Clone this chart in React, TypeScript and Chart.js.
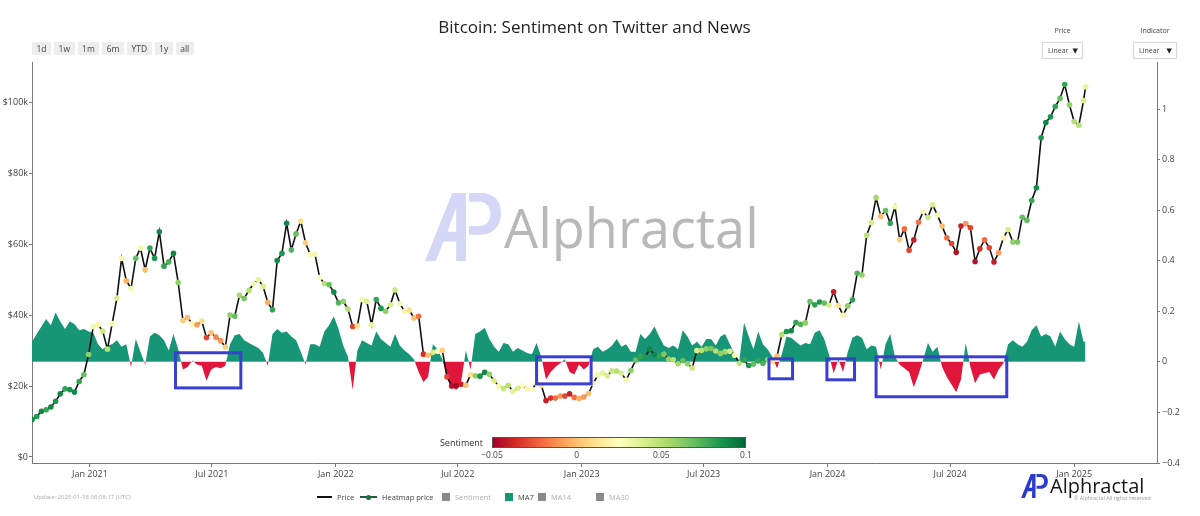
import React, { useEffect, useRef } from "react";
import { Chart, registerables } from "chart.js";

Chart.register(...registerables);

// ---------------- data ----------------
const TITLE = "Bitcoin: Sentiment on Twitter and News";
const FIRST_WEEK = "2020-10-07"; // weekly samples start here (every 7 days)
const LAST_DAY = "2025-01-18"; // final sample
const X_RANGE = ["2020-10-07", "2025-05-04"];
const X_TICK_DATES = [
  "2021-01-01", "2021-07-01", "2022-01-01", "2022-07-01", "2023-01-01",
  "2023-07-01", "2024-01-01", "2024-07-01", "2025-01-01",
];
const MONTHS = ["Jan", "Feb", "Mar", "Apr", "May", "Jun", "Jul", "Aug", "Sep", "Oct", "Nov", "Dec"];

// BTC price, thousands of USD (weekly)
const PRICE_K = [
  // 2020
  10.6, 11.4, 12.9, 13.3, 14.1, 15.7, 17.8, 19.2, 19.0, 18.3, 21.3, 23.2, 28.9,
  // 2021
  36.8, 37.3, 35.5, 30.4, 37.6, 44.8, 56.0, 49.7, 47.5, 56.0, 58.9, 52.8, 58.9,
  56.0, 63.5, 53.8, 55.0, 57.4, 49.2, 38.5, 39.3, 37.6, 37.3, 38.3, 33.7, 35.0,
  33.8, 32.8, 31.0, 40.0, 39.7, 45.6, 44.7, 47.0, 48.8, 50.0, 48.1, 43.6, 41.5,
  55.4, 57.4, 65.9, 58.4, 62.9, 66.5, 60.4, 57.1, 57.2, 50.6, 48.9, 48.6, 46.5,
  // 2022
  43.5, 43.9, 41.7, 36.8, 36.9, 44.4, 43.9, 37.3, 44.4, 41.9, 41.1, 42.9, 47.1,
  43.2, 41.1, 41.4, 39.2, 39.7, 29.0, 28.7, 29.5, 29.8, 30.1, 22.6, 20.0, 20.1,
  20.5, 20.2, 23.2, 22.9, 22.8, 23.9, 23.3, 21.5, 20.0, 19.3, 20.2, 18.5, 19.4,
  20.2, 19.2, 19.1, 20.8, 20.2, 15.9, 16.6, 16.6, 17.2, 17.2, 17.8, 16.8, 16.5,
  // 2023
  16.9, 17.9, 20.7, 23.1, 23.7, 22.9, 24.3, 24.2, 23.6, 21.7, 24.4, 27.3, 28.3,
  28.2, 30.4, 28.8, 28.4, 29.0, 27.6, 27.4, 26.3, 27.2, 26.3, 25.1, 30.0, 30.1,
  30.5, 30.6, 29.9, 29.2, 29.7, 29.8, 28.7, 26.4, 27.3, 25.8, 26.2, 27.1, 26.4,
  27.4, 26.9, 28.4, 34.5, 35.4, 35.6, 37.9, 37.4, 37.8, 43.8, 42.9, 43.7, 43.4,
  // 2024
  42.8, 46.6, 42.7, 40.0, 42.6, 44.3, 51.8, 51.3, 62.5, 66.1, 73.1, 67.9, 69.5,
  65.9, 70.6, 61.3, 64.3, 58.3, 61.2, 66.2, 69.2, 67.6, 71.1, 68.2, 65.1, 61.8,
  60.2, 57.7, 65.1, 65.8, 64.6, 55.1, 58.7, 61.2, 59.0, 55.0, 57.6, 61.8, 64.1,
  60.6, 60.6, 67.6, 66.7, 72.3, 75.9, 90.0, 94.3, 95.9, 98.8, 101.1, 105.0, 99.3,
  // 2025
  94.6, 93.5, 100.5, 104.4,
];

// Sentiment of each price point (colours the heatmap markers)
const SENTIMENT = [
  0.09, 0.085, 0.09, 0.08, 0.09, 0.085, 0.09, 0.08, 0.085, 0.09, 0.08, 0.07, 0.06,
  0.03, 0.02, 0.045, 0.05, 0.03, 0.04, 0.02, -0.005, 0.03, 0.07, 0.03, 0.0, 0.08,
  0.085, 0.09, 0.08, 0.075, 0.09, 0.06, 0.005, 0.0, 0.02, -0.01, 0.01, -0.03, 0.0,
  -0.015, -0.01, 0.005, 0.06, 0.07, 0.055, 0.065, 0.05, 0.03, 0.035, 0.04, -0.005, 0.08,
  0.09, 0.085, 0.09, 0.075, 0.07, 0.01, 0.005, 0.02, 0.03, 0.025, 0.05, 0.07, 0.09,
  0.075, 0.06, 0.05, -0.03, 0.01, 0.03, 0.04, 0.035, 0.08, 0.085, 0.06, 0.04, 0.045,
  0.03, 0.02, 0.01, 0.0, -0.02, -0.035, 0.0, 0.04, 0.025, 0.005, -0.03, -0.045, -0.05,
  -0.04, 0.0, 0.01, 0.06, 0.085, 0.09, 0.06, 0.04, 0.03, 0.045, 0.05, 0.035, 0.04,
  0.025, 0.02, 0.025, 0.03, 0.01, -0.04, -0.035, -0.02, -0.01, -0.03, -0.04, -0.02, -0.005,
  -0.01, 0.0, 0.02, 0.03, 0.035, 0.04, 0.045, 0.05, 0.04, 0.03, 0.06, 0.07, 0.08,
  0.085, 0.09, 0.09, 0.08, 0.065, 0.06, 0.05, 0.055, 0.07, 0.06, 0.045, 0.04, 0.05,
  0.06, 0.065, 0.05, 0.06, 0.055, 0.04, 0.03, 0.05, 0.08, 0.085, 0.07, 0.08, 0.075,
  0.06, 0.01, 0.0, 0.05, 0.085, 0.09, 0.08, 0.075, 0.06, 0.07, 0.08, 0.085, 0.07,
  0.04, -0.04, 0.01, 0.02, 0.06, 0.08, 0.075, 0.06, 0.05, 0.04, 0.055, 0.0, 0.07,
  0.08, 0.03, 0.005, -0.02, -0.03, -0.04, -0.02, 0.02, 0.045, 0.04, 0.03, 0.0, -0.02,
  -0.03, -0.045, -0.04, -0.01, -0.03, -0.045, -0.035, -0.02, -0.03, -0.04, -0.01, 0.02, 0.04,
  0.06, 0.065, 0.07, 0.07, 0.08, 0.09, 0.085, 0.09, 0.085, 0.08, 0.07, 0.08, 0.06,
  0.05, 0.05, 0.04, 0.035,
];

// MA7 of sentiment (right axis)
const MA7 = [
  0.08, 0.11, 0.14, 0.17, 0.145, 0.195, 0.16, 0.13, 0.16, 0.15, 0.125, 0.13, 0.12,
  0.115, 0.07, 0.05, 0.065, 0.07, 0.085, 0.06, 0.07, -0.02, 0.09, 0.04, -0.01, 0.1,
  0.115, 0.105, 0.085, 0.045, 0.11, 0.05, -0.03, -0.02, 0.005, -0.01, -0.015, -0.075, -0.03,
  -0.02, -0.025, -0.015, 0.07, 0.105, 0.11, 0.085, 0.075, 0.065, 0.055, 0.035, -0.015, 0.11,
  0.13, 0.115, 0.12, 0.1, 0.085, 0.04, -0.01, 0.07, 0.07, 0.06, 0.12, 0.145, 0.18,
  0.13, 0.065, 0.02, -0.11, 0.045, 0.085, 0.075, 0.065, 0.12, 0.09, 0.075, 0.06, 0.11,
  0.065, 0.045, 0.03, 0.01, -0.04, -0.08, -0.06, 0.07, 0.05, 0.01, -0.06, -0.1, -0.11,
  -0.08, 0.045, -0.03, 0.11, 0.12, 0.135, 0.09, 0.06, 0.04, 0.075, 0.07, 0.04, 0.055,
  0.045, 0.035, 0.03, 0.075, 0.02, -0.07, -0.04, -0.02, -0.005, 0.01, -0.04, -0.05, -0.01,
  -0.03, -0.015, 0.05, 0.06, 0.04, 0.05, 0.065, 0.09, 0.06, 0.07, 0.04, 0.04, 0.11,
  0.09, 0.11, 0.14, 0.1, 0.065, 0.055, 0.065, 0.05, 0.125, 0.1, 0.065, 0.08, 0.06,
  0.09, 0.09, 0.065, 0.1, 0.11, 0.07, 0.03, 0.005, 0.155, 0.1, 0.05, 0.12, 0.07,
  0.05, 0.02, -0.025, 0.03, 0.1, 0.095, 0.08, 0.065, 0.075, 0.07, 0.115, 0.125, 0.09,
  0.03, -0.045, 0.01, -0.04, 0.04, 0.095, 0.105, 0.095, 0.05, 0.065, 0.06, -0.03, 0.07,
  0.11, 0.02, -0.01, -0.025, -0.04, -0.1, -0.05, 0.01, 0.075, 0.04, 0.06, -0.02, -0.06,
  -0.09, -0.12, -0.07, 0.075, -0.02, -0.085, -0.05, -0.045, -0.04, -0.07, -0.03, -0.005, 0.07,
  0.085, 0.07, 0.06, 0.08, 0.125, 0.145, 0.1, 0.11, 0.1, 0.06, 0.12, 0.09, 0.07,
  0.06, 0.16, 0.08, 0.08,
];

const PRICE_TICKS = [0, 20000, 40000, 60000, 80000, 100000];
const PRICE_RANGE = [-1692, 111360];
const IND_TICKS = [-0.4, -0.2, 0, 0.2, 0.4, 0.6, 0.8, 1];
const IND_RANGE = [-0.4, 1.186];
const SENT_RANGE = [-0.05, 0.1];
const SENT_TICKS = [-0.05, 0, 0.05, 0.1];

// highlighted periods (dates, indicator values)
const BOX_FROM = ["2021-05-08", "2022-10-26", "2023-10-06", "2023-12-31", "2024-03-13"];
const BOX_TO = ["2021-08-13", "2023-01-15", "2023-11-10", "2024-02-10", "2024-09-23"];
const BOX_TOP = [0.036, 0.02, 0.012, 0.012, 0.02];
const BOX_BOTTOM = [-0.103, -0.087, -0.067, -0.071, -0.138];

const RANGE_BUTTONS = ["1d", "1w", "1m", "6m", "YTD", "1y", "all"];
const UPDATE_TEXT = "Update: 2025-01-18 08:08:17 (UTC)";

// ---------------- styles ----------------
const FONT = "'Open Sans', 'DejaVu Sans', sans-serif";
const TEAL = "rgb(22,150,118)";
const CRIMSON = "rgb(225,22,60)";
const BOX_COLOR = "#3b3fcf";
const AXIS_COLOR = "#7a7a7a";
const TEXT = "#444";
const RDYLGN: [number, number[]][] = [
  [0, [165, 0, 38]], [0.1, [215, 48, 39]], [0.2, [244, 109, 67]], [0.3, [253, 174, 97]],
  [0.4, [254, 224, 139]], [0.5, [255, 255, 191]], [0.6, [217, 239, 139]], [0.7, [166, 217, 106]],
  [0.8, [102, 189, 99]], [0.9, [26, 152, 80]], [1, [0, 104, 55]],
];

const DAY_MS = 86400000;
const toDay = (s: string) => {
  const [y, m, d] = s.split("-").map(Number);
  return Date.UTC(y, m - 1, d) / DAY_MS;
};

function sentColor(v: number) {
  const t = Math.max(0, Math.min(1, (v - SENT_RANGE[0]) / (SENT_RANGE[1] - SENT_RANGE[0])));
  for (let i = 0; i < RDYLGN.length - 1; i++) {
    const [a, ca] = RDYLGN[i];
    const [b, cb] = RDYLGN[i + 1];
    if (t <= b) {
      const f = (t - a) / (b - a);
      const c = ca.map((x, j) => Math.round(x + (cb[j] - x) * f));
      return `rgb(${c[0]},${c[1]},${c[2]})`;
    }
  }
  return "rgb(0,104,55)";
}

const X_DAYS = PRICE_K.map((_, i) =>
  i < PRICE_K.length - 1 ? toDay(FIRST_WEEK) + i * 7 : toDay(LAST_DAY)
);

const boxesPlugin = {
  id: "boxes",
  afterDatasetsDraw(chart: any) {
    const { ctx } = chart;
    const xs = chart.scales.x;
    const ys = chart.scales.y1;
    ctx.save();
    ctx.strokeStyle = BOX_COLOR;
    ctx.lineWidth = 3;
    BOX_FROM.forEach((f, i) => {
      const x0 = xs.getPixelForValue(toDay(f));
      const x1 = xs.getPixelForValue(toDay(BOX_TO[i]));
      const y0 = ys.getPixelForValue(BOX_TOP[i]);
      const y1 = ys.getPixelForValue(BOX_BOTTOM[i]);
      ctx.strokeRect(x0, y0, x1 - x0, y1 - y0);
    });
    ctx.restore();
  },
};

function APLogo({ w, h, fill, opacity }: { w: number; h: number; fill: string; opacity: number }) {
  return (
    <svg width={w} height={h} viewBox="0 0 78 70" style={{ display: "block", opacity }}>
      <path
        d="M0 70 L28 0 L42 0 L42 70 L32 70 L32 50 L19 50 L11 70 Z M23 40 L32 40 L32 15 Z"
        fill={fill}
        fillRule="evenodd"
      />
      <path
        d="M45 0 L57 0 C71 0 78 8 78 21 C78 34 70 43 57 43 L45 43 L45 34 L56 34 C63 34 67 29 67 22 C67 14 63 9 56 9 L45 9 Z"
        fill={fill}
      />
    </svg>
  );
}

export default function App() {
  const canvasRef = useRef<HTMLCanvasElement | null>(null);

  useEffect(() => {
    const canvas = canvasRef.current;
    if (!canvas) return;
    const priceData = X_DAYS.map((x, i) => ({ x, y: PRICE_K[i] * 1000 }));
    const maData = X_DAYS.map((x, i) => ({ x, y: MA7[i] }));
    const colors = SENTIMENT.map(sentColor);

    const chart = new Chart(canvas, {
      type: "line",
      data: {
        datasets: [
          {
            label: "Heatmap price",
            data: priceData,
            yAxisID: "y",
            showLine: false,
            pointRadius: 2.8,
            pointBorderWidth: 0,
            pointBackgroundColor: colors,
            pointBorderColor: colors,
            order: 0,
          } as any,
          {
            label: "Price",
            data: priceData,
            yAxisID: "y",
            borderColor: "#111",
            borderWidth: 1.6,
            pointRadius: 0,
            tension: 0,
            order: 1,
          },
          {
            label: "MA7",
            data: maData,
            yAxisID: "y1",
            borderWidth: 0,
            borderColor: "rgba(0,0,0,0)",
            pointRadius: 0,
            tension: 0,
            fill: { target: "origin", above: TEAL, below: CRIMSON },
            order: 2,
          } as any,
        ],
      },
      options: {
        animation: false,
        responsive: false,
        devicePixelRatio: 1,
        events: [],
        layout: { padding: { top: 62, left: 0, right: 0, bottom: 0 } },
        plugins: {
          legend: { display: false },
          tooltip: { enabled: false },
          title: { display: false },
        },
        scales: {
          x: {
            type: "linear",
            min: toDay(X_RANGE[0]),
            max: toDay(X_RANGE[1]),
            afterBuildTicks: (s: any) => {
              s.ticks = X_TICK_DATES.map((d) => ({ value: toDay(d) }));
            },
            afterFit: (s: any) => {
              s.height = 53;
            },
            ticks: {
              autoSkip: false,
              maxRotation: 0,
              padding: 2,
              color: TEXT,
              font: { family: FONT, size: 9 },
              callback: (v: any) => {
                const d = new Date(Number(v) * DAY_MS);
                return MONTHS[d.getUTCMonth()] + " " + d.getUTCFullYear();
              },
            },
            grid: { drawOnChartArea: false, drawTicks: true, tickLength: 4, color: AXIS_COLOR },
            border: { display: true, color: AXIS_COLOR, width: 1 },
          },
          y: {
            position: "left",
            min: PRICE_RANGE[0],
            max: PRICE_RANGE[1],
            afterBuildTicks: (s: any) => {
              s.ticks = PRICE_TICKS.map((v) => ({ value: v }));
            },
            afterFit: (s: any) => {
              s.width = 32;
            },
            ticks: {
              padding: 1,
              color: TEXT,
              font: { family: FONT, size: 9 },
              callback: (v: any) => (Number(v) === 0 ? "$0" : "$" + Math.round(Number(v) / 1000) + "k"),
            },
            grid: { drawOnChartArea: false, drawTicks: true, tickLength: 3, color: AXIS_COLOR },
            border: { display: true, color: AXIS_COLOR, width: 1 },
          },
          y1: {
            position: "right",
            min: IND_RANGE[0],
            max: IND_RANGE[1],
            afterBuildTicks: (s: any) => {
              s.ticks = IND_TICKS.map((v) => ({ value: v }));
            },
            afterFit: (s: any) => {
              s.width = 43;
            },
            ticks: {
              padding: 2,
              color: TEXT,
              font: { family: FONT, size: 9 },
              callback: (v: any) => {
                const r = Math.round(Number(v) * 10) / 10;
                return r < 0 ? "\u2212" + Math.abs(r) : String(r);
              },
            },
            grid: { drawOnChartArea: false, drawTicks: true, tickLength: 3, color: AXIS_COLOR },
            border: { display: true, color: AXIS_COLOR, width: 1 },
          },
        },
      } as any,
      plugins: [boxesPlugin],
    });
    return () => chart.destroy();
  }, []);

  const abs = (s: React.CSSProperties): React.CSSProperties => ({ position: "absolute", ...s });

  const gradient =
    "linear-gradient(to right, " +
    RDYLGN.map(([p, c]) => `rgb(${c[0]},${c[1]},${c[2]}) ${p * 100}%`).join(", ") +
    ")";
  const CB_LEFT = 492;
  const CB_WIDTH = 254;
  const sentX = (v: number) =>
    CB_LEFT + ((v - SENT_RANGE[0]) / (SENT_RANGE[1] - SENT_RANGE[0])) * CB_WIDTH;

  const legendItems = [
    { label: "Price", left: 317, kind: "line", active: true },
    { label: "Heatmap price", left: 360, kind: "marker", active: true },
    { label: "Sentiment", left: 442, kind: "square", active: false },
    { label: "MA7", left: 505, kind: "square", active: true },
    { label: "MA14", left: 538, kind: "square", active: false },
    { label: "MA30", left: 596, kind: "square", active: false },
  ];

  return (
    <div
      style={abs({
        left: 0,
        top: 0,
        width: 1200,
        height: 516,
        background: "#fff",
        overflow: "hidden",
        fontFamily: FONT,
        color: TEXT,
      })}
    >
      {/* watermark */}
      <div style={abs({ left: 425, top: 192, zIndex: 0 })}>
        <APLogo w={76} h={70} fill="#7d86e6" opacity={0.32} />
      </div>
      <div
        style={abs({
          left: 504,
          top: 200,
          fontSize: 54,
          lineHeight: "54px",
          color: "#b8b8b8",
          whiteSpace: "nowrap",
          zIndex: 0,
        })}
      >
        Alphractal
      </div>

      <canvas
        ref={canvasRef}
        width={1200}
        height={516}
        style={abs({ left: 0, top: 0, width: 1200, height: 516, zIndex: 1 })}
      />

      {/* title */}
      <div
        style={abs({
          left: 32,
          width: 1125,
          top: 17,
          textAlign: "center",
          fontSize: 17,
          lineHeight: "20px",
          color: "#222",
          zIndex: 2,
        })}
      >
        {TITLE}
      </div>

      {/* range buttons */}
      <div style={abs({ left: 32, top: 42, display: "flex", gap: 3, zIndex: 2 })}>
        {RANGE_BUTTONS.map((b) => (
          <div
            key={b}
            style={{
              background: "#eeeeee",
              padding: "0 4.5px",
              minWidth: 9,
              height: 13,
              lineHeight: "13px",
              fontSize: 8.5,
              textAlign: "center",
              color: TEXT,
              borderRadius: 1,
            }}
          >
            {b}
          </div>
        ))}
      </div>

      {/* dropdowns */}
      {[
        { label: "Price", left: 1042, width: 41 },
        { label: "Indicator", left: 1133, width: 44 },
      ].map((d) => (
        <React.Fragment key={d.label}>
          <div
            style={abs({
              left: d.left - 10,
              width: d.width + 20,
              top: 26,
              textAlign: "center",
              fontSize: 7,
              lineHeight: "10px",
              zIndex: 2,
            })}
          >
            {d.label}
          </div>
          <div
            style={abs({
              left: d.left,
              top: 42,
              width: d.width,
              height: 17,
              background: "#fff",
              border: "1px solid #d8d8d8",
              boxSizing: "border-box",
              boxShadow: "0 0 1px rgba(0,0,0,0.08)",
              fontSize: 7,
              lineHeight: "15px",
              zIndex: 2,
            })}
          >
            <span style={{ position: "absolute", left: 5 }}>Linear</span>
            <span style={{ position: "absolute", right: 4, fontSize: 7, color: "#222" }}>▼</span>
          </div>
        </React.Fragment>
      ))}

      {/* colorbar */}
      <div
        style={abs({
          left: 380,
          width: 103,
          top: 437,
          textAlign: "right",
          fontSize: 9,
          lineHeight: "12px",
          color: "#333",
          zIndex: 2,
        })}
      >
        Sentiment
      </div>
      <div
        style={abs({
          left: CB_LEFT,
          top: 437,
          width: CB_WIDTH,
          height: 11,
          background: gradient,
          border: "1px solid #555",
          boxSizing: "border-box",
          zIndex: 2,
        })}
      />
      {SENT_TICKS.map((t) => (
        <div
          key={t}
          style={abs({
            left: sentX(t) - 20,
            width: 40,
            top: 449,
            textAlign: "center",
            fontSize: 8.5,
            lineHeight: "11px",
            zIndex: 2,
          })}
        >
          {t < 0 ? "\u2212" + Math.abs(t) : String(t)}
        </div>
      ))}

      {/* legend */}
      {legendItems.map((it) => (
        <div
          key={it.label}
          style={abs({
            left: it.left,
            top: 491,
            height: 12,
            display: "flex",
            alignItems: "center",
            gap: 5,
            fontSize: 7.5,
            whiteSpace: "nowrap",
            zIndex: 2,
          })}
        >
          {it.kind === "line" && <div style={{ width: 15, height: 2, background: "#111" }} />}
          {it.kind === "marker" && (
            <div style={{ position: "relative", width: 17, height: 8 }}>
              <div style={{ position: "absolute", left: 0, top: 3, width: 17, height: 1.5, background: "#1d5f3a" }} />
              <div
                style={{
                  position: "absolute",
                  left: 6,
                  top: 1.5,
                  width: 5,
                  height: 5,
                  borderRadius: 3,
                  background: "#1d6b3e",
                }}
              />
            </div>
          )}
          {it.kind === "square" && (
            <div
              style={{
                width: 8,
                height: 8,
                background: it.label === "MA7" ? TEAL : "#8a8a8a",
              }}
            />
          )}
          <span style={{ color: it.active ? TEXT : "#b0b0b0" }}>{it.label}</span>
        </div>
      ))}

      {/* update note */}
      <div style={abs({ left: 34, top: 493, fontSize: 6, lineHeight: "8px", color: "#aaa", zIndex: 2 })}>
        {UPDATE_TEXT}
      </div>

      {/* bottom-right logo */}
      <div style={abs({ left: 1021, top: 474, zIndex: 2 })}>
        <APLogo w={27} h={24} fill="#2b3bd0" opacity={1} />
      </div>
      <div
        style={abs({
          left: 1050,
          top: 476,
          fontSize: 20,
          lineHeight: "20px",
          color: "#151515",
          whiteSpace: "nowrap",
          zIndex: 2,
        })}
      >
        Alphractal
      </div>
      <div
        style={abs({
          left: 1074,
          top: 495,
          fontSize: 5.3,
          lineHeight: "6px",
          color: "#999",
          whiteSpace: "nowrap",
          zIndex: 2,
        })}
      >
        © Alphractal All rights reserved
      </div>
    </div>
  );
}
